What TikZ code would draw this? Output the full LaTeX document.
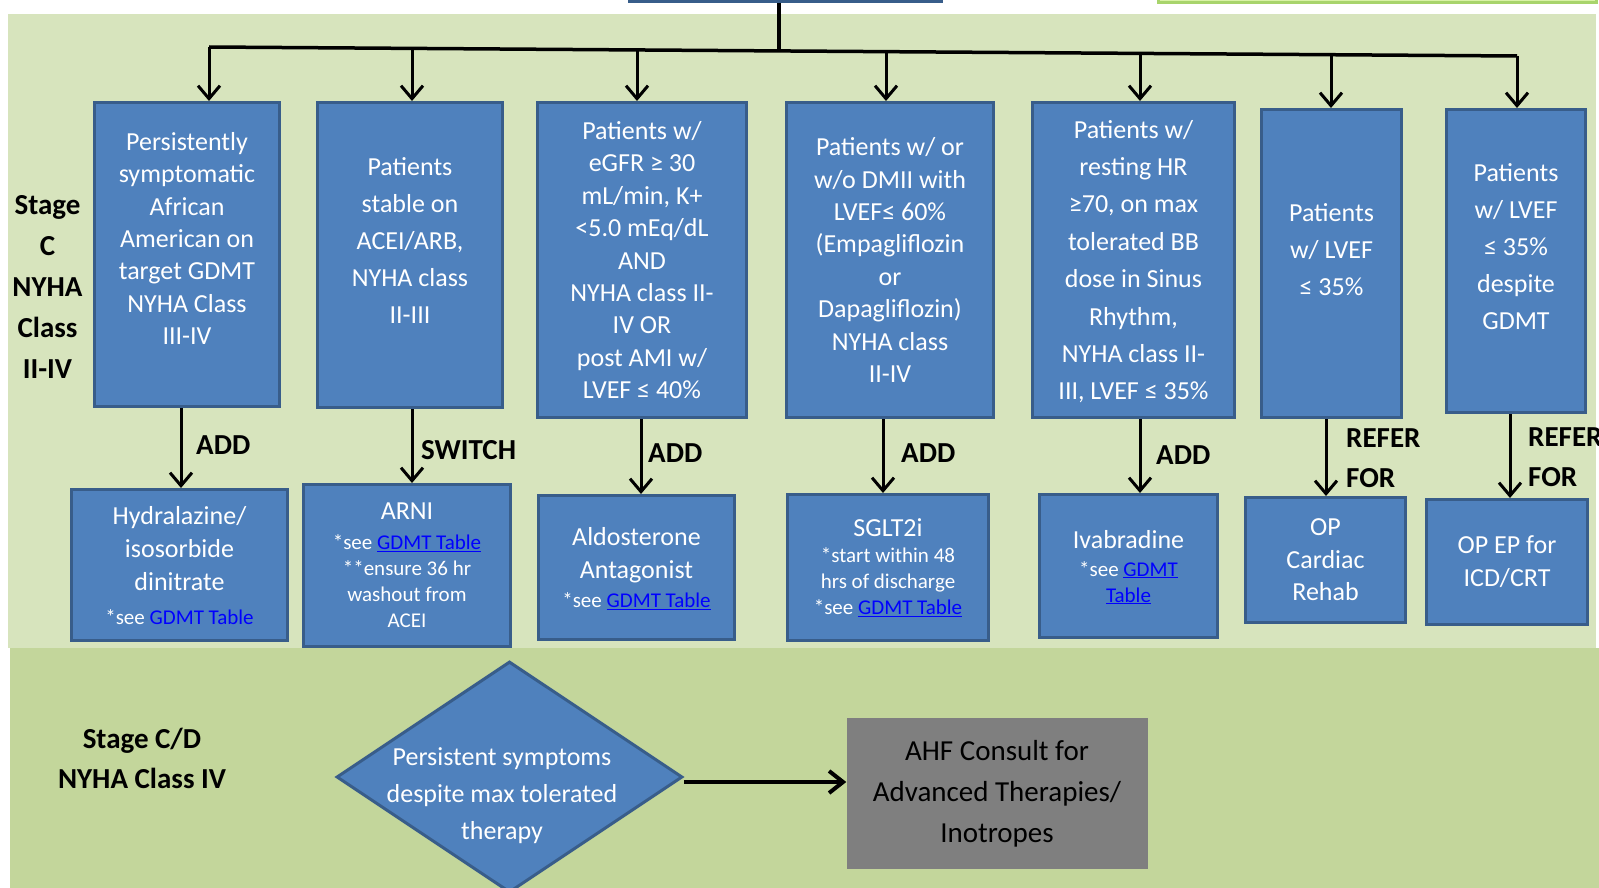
\documentclass[tikz,border=0pt]{standalone}
\usepackage{fontspec}
\setmainfont{Carlito}
\usepackage{tikz}
\usetikzlibrary{shapes.geometric, arrows.meta, positioning}
\usetikzlibrary{calc}

\definecolor{boxblue}{HTML}{4F81BD}
\definecolor{boxedge}{HTML}{385D8A}
\definecolor{stagec}{HTML}{D7E4BD}
\definecolor{stagecd}{HTML}{C3D69B}
\definecolor{goalgreen}{HTML}{D9F2A6}
\definecolor{goaledge}{HTML}{A8D46C}
\definecolor{ahfgray}{HTML}{7F7F7F}
\definecolor{linkblue}{HTML}{0000FF}

\newcommand{\gdmt}{\textcolor{linkblue}{\underline{GDMT Table}}}
\newcommand{\sm}{\fontsize{21}{26}\selectfont}

\begin{document}
\begin{tikzpicture}[x=1pt, y=-1pt,
    box/.style={draw=boxedge, fill=boxblue, line width=3pt, text=white, align=center, inner sep=0pt, font=\fontsize{26}{32.4}\selectfont},
    loose/.style={font=\fontsize{26}{37}\selectfont},
    drug/.style={box, font=\fontsize{26}{26}\selectfont},
    goal/.style={draw=goaledge, fill=goalgreen, line width=3pt, inner sep=0pt},
    dia/.style={diamond, draw=boxedge, fill=boxblue, line width=3pt, inner sep=0pt},
    diatext/.style={text=white, align=center, font=\fontsize{26}{37}\selectfont},
    ahf/.style={fill=ahfgray, text=black, align=center, inner sep=0pt, font=\fontsize{29}{41}\selectfont},
    arr/.style={line width=3pt, -{Straight Barb[length=13pt, width=22pt]}},
    bus/.style={line width=3.5pt},
    act/.style={anchor=west, align=left, inner sep=0pt, font=\bfseries\fontsize{29}{40}\selectfont},
    stage/.style={align=center, font=\bfseries\fontsize{29}{41}\selectfont}]
    \useasboundingbox (0,0) rectangle (1599,888);
    \fill[white] (0,0) rectangle (1599,888);

    % Stage bands
    \fill[stagec] (8,14) rectangle (1596,648);
    \fill[stagecd] (10,648) rectangle (1599,888);

    % Boxes cut off at the top
    \node[box, minimum width=312, minimum height=60, anchor=south] (prev) at (785.5,3) {};
    \node[goal, minimum width=438, minimum height=60, anchor=south] (goal) at (1377.5,4) {};

    % Stage labels
    \node[stage] (stc) at (47.5,286.5) {Stage\\C\\NYHA\\Class\\II-IV};
    \node[stage, font=\bfseries\fontsize{29}{40}\selectfont] (stcd) at (142,758) {Stage C/D\\NYHA Class IV};

    % Patient groups
    \node[box, minimum width=185, minimum height=304, text depth=32pt] (pat1) at (187,254.5) {Persistently\\symptomatic\\African\\American on\\target GDMT\\NYHA Class\\III-IV};
    \node[box, loose, minimum width=185, minimum height=305, text depth=28pt] (pat2) at (410,255) {Patients\\stable on\\ACEI/ARB,\\NYHA class\\II-III};
    \node[box, minimum width=209, minimum height=315, text depth=-6pt] (pat3) at (642,260) {Patients w/\\eGFR ≥ 30\\mL/min, K+\\<5.0 mEq/dL\\AND\\NYHA class II-\\IV OR\\post AMI w/\\LVEF ≤ 40\%};
    \node[box, minimum width=207, minimum height=315] (pat4) at (890,260) {Patients w/ or\\w/o DMII with\\LVEF≤ 60\%\\(Empagliflozin\\or\\Dapagliflozin)\\NYHA class\\II-IV};
    \node[box, font=\fontsize{26}{37.4}\selectfont, minimum width=202, minimum height=315, text depth=-6pt] (pat5) at (1133.5,260) {Patients w/\\resting HR\\≥70, on max\\tolerated BB\\dose in Sinus\\Rhythm,\\NYHA class II-\\III, LVEF ≤ 35\%};
    \node[box, loose, minimum width=140, minimum height=308, text depth=28pt] (pat6) at (1331.5,263.5) {Patients\\w/ LVEF\\≤ 35\%};
    \node[box, loose, minimum width=139, minimum height=303, text depth=28pt] (pat7) at (1516,261) {Patients\\w/ LVEF\\≤ 35\%\\despite\\GDMT};

    % Therapies
    \node[drug, minimum width=216, minimum height=151, text depth=-10pt] (rx1) at (179.5,565) {Hydralazine/\\[7pt]isosorbide\\[7pt]dinitrate\\[8pt]\sm *see \textcolor{linkblue}{GDMT Table}};
    \node[drug, minimum width=207, minimum height=162, text depth=-6pt] (rx2) at (407,565.5) {ARNI\\[4pt]\sm *see \gdmt\\\sm **ensure 36 hr\\\sm washout from\\\sm ACEI};
    \node[drug, minimum width=196, minimum height=144, text depth=-8pt] (rx3) at (636.5,567.5) {Aldosterone\\[7pt]Antagonist\\[3pt]\sm *see \gdmt};
    \node[drug, minimum width=201, minimum height=146] (rx4) at (888,567.5) {SGLT2i\\\sm *start within 48\\\sm hrs of discharge\\\sm *see \gdmt};
    \node[drug, minimum width=178, minimum height=143, text depth=-6pt] (rx5) at (1128.5,566) {Ivabradine\\[2pt]\sm *see \textcolor{linkblue}{\underline{GDMT}}\\\sm \textcolor{linkblue}{\underline{Table}}};
    \node[drug, minimum width=160, minimum height=125] (rx6) at (1325.5,560) {OP\\[6.5pt]Cardiac\\[6.5pt]Rehab};
    \node[drug, minimum width=161, minimum height=125] (rx7) at (1507,562) {OP EP for\\[7pt]ICD/CRT};

    % Bus from the box above
    \foreach \i/\x in {1/209, 2/412, 3/637, 4/886, 5/1140, 6/1331, 7/1517}
        \coordinate (d\i) at (\x, {47+9*(\x-209)/1308});
    \coordinate (split) at (779, {47+9*(779-209)/1308});
    \draw[bus] (split |- prev.south) -- (split);
    \draw[bus] (d1) -- (d7);
    \foreach \i in {1,...,7}
        \draw[arr] (d\i) -- (d\i |- pat\i.north);

    % Patient group to therapy
    \foreach \i/\x in {1/181, 2/412, 3/641, 4/883, 5/1140, 6/1326, 7/1510} {
        \coordinate (v\i) at (\x,0);
        \draw[arr] (v\i |- pat\i.south) -- (v\i |- rx\i.north);
    }
    \node[act] (add1) at (196,445) {ADD};
    \node[act] (switch2) at (421,450) {SWITCH};
    \node[act] (add3) at (648,453) {ADD};
    \node[act] (add4) at (901,453) {ADD};
    \node[act] (add5) at (1156,455) {ADD};
    \node[act] (refer6) at (1346,458) {REFER\\FOR};
    \node[act] (refer7) at (1528,457) {REFER\\FOR};

    % Stage C/D
    \node[dia, minimum width=346, minimum height=231] (sympt) at (509.5,777) {};
    \node[diatext] (symptxt) at (502,796) {Persistent symptoms\\despite max tolerated\\therapy};
    \node[ahf, minimum width=301, minimum height=151] (consult) at (997,793.5) {AHF Consult for\\Advanced Therapies/\\Inotropes};
    \draw[line width=4pt, -{Straight Barb[length=14pt, width=22pt]}] ([yshift=-5pt]sympt.east) -- ([yshift=-5pt]sympt.east -| consult.west);
\end{tikzpicture}
\end{document}
